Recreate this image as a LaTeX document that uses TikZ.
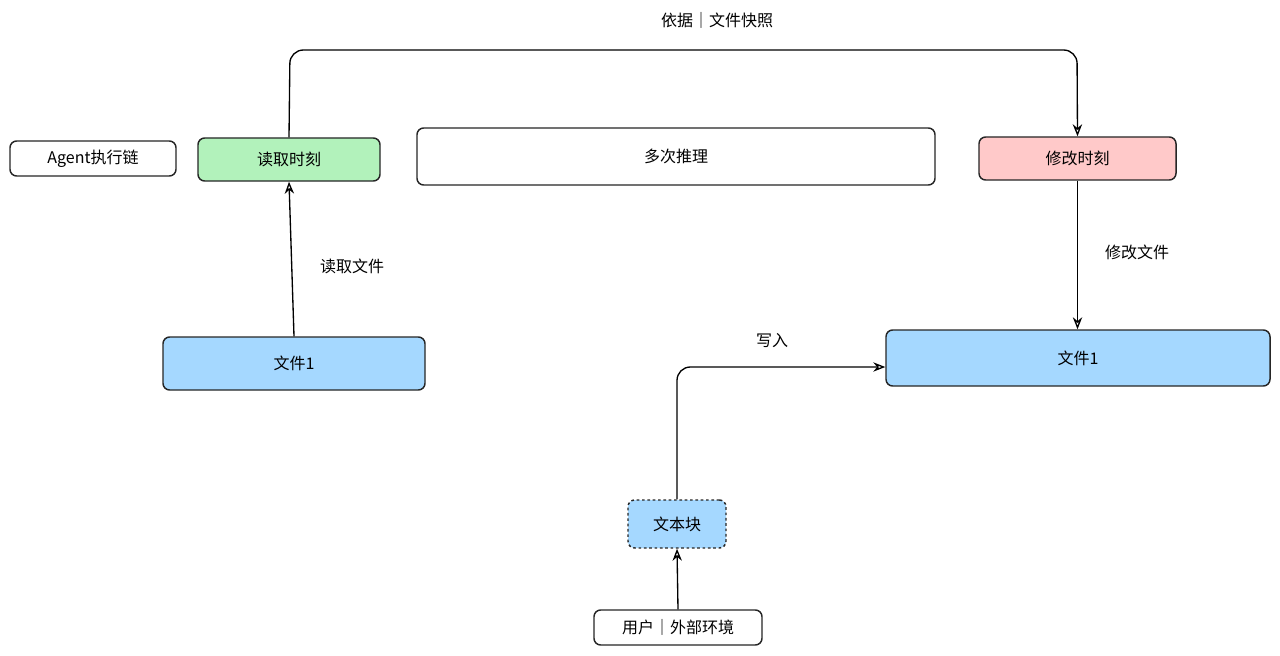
\documentclass[tikz,border=0pt]{standalone}
\usepackage{fontspec}
\setmainfont{Noto Sans CJK SC}
\usetikzlibrary{arrows.meta}
\begin{document}
\begin{tikzpicture}[x=0.75pt,y=-0.75pt,
  box/.style={draw=black!85,line width=1.1pt,rounded corners=5pt,font=\fontsize{12}{14}\selectfont},
  arr/.style={-{Stealth[length=9pt,width=7pt,open]},line width=1pt,rounded corners=10pt},
  lbl/.style={font=\fontsize{12}{14}\selectfont}]
\useasboundingbox (0,0) rectangle (1280,656);
\definecolor{gfill}{HTML}{B2F2BB}
\definecolor{rfill}{HTML}{FFC9C9}
\definecolor{bfill}{HTML}{A5D8FF}
\node[box,fill=white,minimum width=166*0.75pt,minimum height=35*0.75pt] (agent) at (93,158.5) {\itshape Agent执行链};
\node[box,fill=gfill,minimum width=182*0.75pt,minimum height=43*0.75pt] (read) at (289,159.5) {读取时刻};
\node[box,fill=white,minimum width=518*0.75pt,minimum height=57*0.75pt] (infer) at (676,156.5) {多次推理};
\node[box,fill=rfill,minimum width=197*0.75pt,minimum height=43*0.75pt] (mod) at (1077.5,158.5) {修改时刻};
\node[box,fill=bfill,minimum width=262*0.75pt,minimum height=53*0.75pt] (f1) at (294,363.5) {文件1};
\node[box,fill=bfill,minimum width=384*0.75pt,minimum height=56*0.75pt] (f2) at (1078,358) {文件1};
\node[box,fill=bfill,dashed,dash pattern=on 2pt off 2pt,minimum width=98*0.75pt,minimum height=48*0.75pt] (blk) at (677,524) {文本块};
\node[box,fill=white,minimum width=168*0.75pt,minimum height=35*0.75pt] (user) at (678,627.5) {用户｜外部环境};
\draw[arr] (f1.north) -- (read.south);
\node[lbl] at (352,266) {读取文件};
\draw[arr] (read.north) -- (290,50) -- (1077,50) -- (mod.north);
\node[lbl] at (717,20) {依据｜文件快照};
\draw[arr] (mod.south) -- (f2.north -| mod.south);
\node[lbl] at (1137,252) {修改文件};
\draw[arr] (blk.north) -- (677,367) -- (f2.west |- 0,367);
\node[lbl] at (772,341) {写入};
\draw[arr] (user.north) -- (blk.south);
\end{tikzpicture}
\end{document}
